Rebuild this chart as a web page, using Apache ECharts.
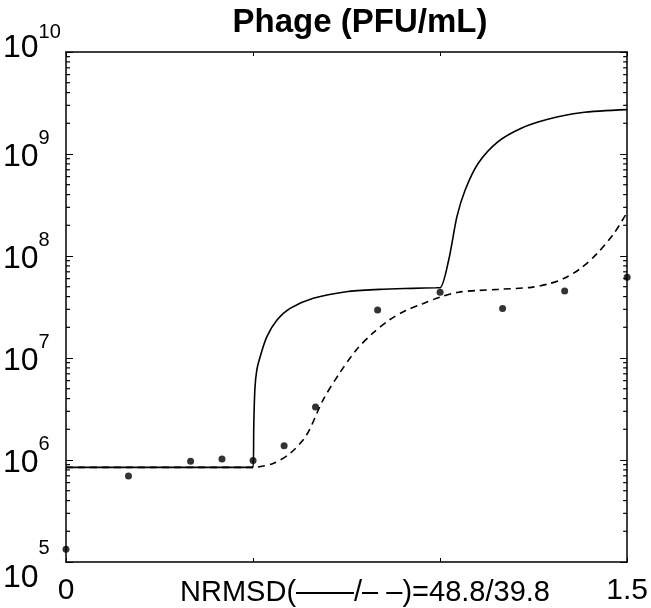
<!DOCTYPE html>
<html>
<head>
<meta charset="utf-8">
<script src="https://cdn.jsdelivr.net/npm/echarts@6/dist/echarts.min.js"></script>
<style>
  html, body { margin: 0; padding: 0; background: #fff; }
  #chart { width: 651px; height: 608px; }
</style>
</head>
<body>
<div id="chart"></div>
<script>
// observed phage titer (PFU/mL) vs time
var obsX = [0, 0.167, 0.333, 0.417, 0.5, 0.583, 0.667, 0.833, 1.0, 1.167, 1.333, 1.5];
var obsY = [1.33e5, 6.96e5, 9.7e5, 1.02e6, 9.9e5, 1.38e6, 3.31e6, 2.95e7, 4.42e7, 3.05e7, 4.54e7, 6.18e7];

// model 1 (solid)
var solidX = [0, 0.49, 0.5, 0.502, 0.505, 0.51, 0.519, 0.537, 0.564, 0.599, 0.661, 0.749, 0.838, 0.926, 0.99, 1.0,
  1.023, 1.045, 1.067, 1.102, 1.155, 1.217, 1.288, 1.376, 1.5];
var solidY = [8.47e5, 8.47e5, 8.47e5, 2.24e6, 5.0e6, 7.6e6, 1.03e7, 1.62e7, 2.36e7, 3.07e7, 3.85e7, 4.47e7, 4.71e7, 4.82e7, 4.88e7, 4.89e7,
  9.14e7, 2.43e8, 4.44e8, 8.11e8, 1.32e9, 1.79e9, 2.19e9, 2.54e9, 2.72e9];

// model 2 (dashed)
var dashX = [0, 0.49, 0.5, 0.511, 0.555, 0.599, 0.643, 0.687, 0.731, 0.776, 0.82, 0.864, 0.908, 0.952, 1.003,
  1.049, 1.1, 1.155, 1.244, 1.288, 1.332, 1.376, 1.42, 1.465, 1.5];
var dashY = [8.47e5, 8.47e5, 8.47e5, 8.51e5, 9.29e5, 1.16e6, 1.76e6, 3.87e6, 7.08e6, 1.2e7, 1.75e7, 2.36e7, 2.92e7, 3.39e7, 3.99e7,
  4.42e7, 4.59e7, 4.71e7, 4.93e7, 5.31e7, 6.04e7, 7.57e7, 1.06e8, 1.67e8, 2.69e8];

var titleText = 'Phage (PFU/mL)';
var noteText = 'NRMSD(——/– –)=48.8/39.8';
var xTickLabels = { 0: '0', 1.5: '1.5' };

function pairs(xs, ys) {
  return xs.map(function (x, i) { return [x, ys[i]]; });
}

// minor log ticks 2..9 in each decade
var minorTicks = [];
for (var d = 5; d < 10; d++) {
  for (var k = 2; k <= 9; k++) minorTicks.push([0.75, k * Math.pow(10, d)]);
}

var font = 'Liberation Sans, Arial, sans-serif';
var frame = { show: true, onZero: false, lineStyle: { color: '#000', width: 1.5 } };
var chart = echarts.init(document.getElementById('chart'));

chart.setOption({
  animation: false,
  backgroundColor: '#fff',
  title: [
    {
      text: titleText,
      left: 355, top: 1, textAlign: 'center',
      textStyle: { fontSize: 33, fontWeight: 'bold', color: '#000', fontFamily: font }
    },
    {
      text: noteText,
      left: 360, top: 573, textAlign: 'center',
      textStyle: { fontSize: 29, fontWeight: 'normal', color: '#000', fontFamily: font }
    }
  ],
  grid: { left: 64, right: 21, top: 52, bottom: 46, containLabel: false },
  xAxis: [
    {
      type: 'value', min: 0, max: 1.5, interval: 0.5,
      axisLine: frame,
      axisTick: { inside: true, length: 4, lineStyle: { color: '#000' } },
      splitLine: { show: false },
      axisLabel: {
        margin: 14, fontSize: 30, color: '#000', fontFamily: font,
        formatter: function (v) { return xTickLabels[v] || ''; }
      }
    },
    {
      type: 'value', min: 0, max: 1.5, interval: 0.5, position: 'top',
      axisLine: frame,
      axisTick: { inside: true, length: 4, lineStyle: { color: '#000' } },
      splitLine: { show: false },
      axisLabel: { show: false }
    }
  ],
  yAxis: [
    {
      type: 'log', logBase: 10, min: 1e5, max: 1e10,
      axisLine: frame,
      axisTick: { inside: true, length: 7, lineStyle: { color: '#000' } },
      splitLine: { show: false },
      axisLabel: {
        margin: 63, align: 'left', color: '#000', fontFamily: font,
        formatter: function (v) {
          var e = Math.round(Math.log10(v));
          var s = e === 10 ? 't' : (e === 5 ? 'm' : '');
          return '{b' + s + '|10}{e' + s + '|' + e + '}';
        },
        rich: {
          b: { fontSize: 32, color: '#000', fontFamily: font, padding: [6, 0, 0, 0] },
          e: { fontSize: 20, color: '#000', fontFamily: font, padding: [0, 0, 31, 0] },
          bt: { fontSize: 32, color: '#000', fontFamily: font, padding: [0, 0, 8, 0] },
          et: { fontSize: 20, color: '#000', fontFamily: font, padding: [0, 0, 40, 0] },
          bm: { fontSize: 32, color: '#000', fontFamily: font, padding: [32, 0, 0, 0] },
          em: { fontSize: 20, color: '#000', fontFamily: font, padding: [0, 0, 28, 0] }
        }
      }
    },
    {
      type: 'log', logBase: 10, min: 1e5, max: 1e10, position: 'right',
      axisLine: frame,
      axisTick: { inside: true, length: 7, lineStyle: { color: '#000' } },
      splitLine: { show: false },
      axisLabel: { show: false }
    }
  ],
  series: [
    {
      type: 'custom',
      silent: true,
      data: minorTicks,
      encode: { x: 0, y: 1 },
      renderItem: function (params, api) {
        var p = api.coord([api.value(0), api.value(1)]);
        var cs = params.coordSys;
        var st = { stroke: '#000', lineWidth: 1.2 };
        return {
          type: 'group',
          children: [
            { type: 'line', shape: { x1: cs.x, y1: p[1], x2: cs.x + 4, y2: p[1] }, style: st },
            { type: 'line', shape: { x1: cs.x + cs.width - 4, y1: p[1], x2: cs.x + cs.width, y2: p[1] }, style: st }
          ]
        };
      }
    },
    {
      type: 'line',
      data: pairs(solidX, solidY),
      showSymbol: false,
      smooth: 0.3,
      lineStyle: { color: '#000', width: 1.6 }
    },
    {
      type: 'line',
      data: pairs(dashX, dashY),
      showSymbol: false,
      smooth: 0.3,
      lineStyle: { color: '#000', width: 1.6, type: [7, 5] }
    },
    {
      type: 'scatter',
      data: pairs(obsX, obsY),
      symbolSize: 7,
      clip: false,
      itemStyle: { color: '#000' }
    }
  ]
});
</script>
</body>
</html>
